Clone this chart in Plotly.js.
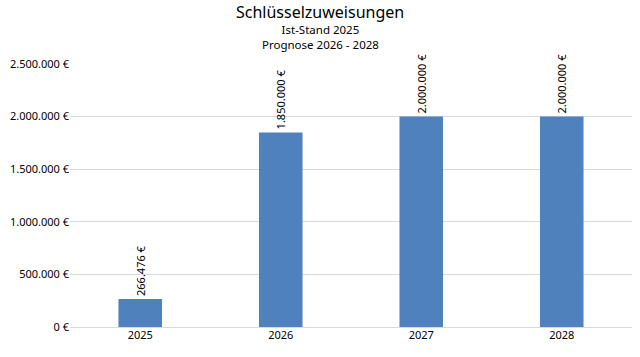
<!DOCTYPE html>
<html><head><meta charset="utf-8">
<script src="https://cdn.plot.ly/plotly-3.0.1.min.js"></script>
<style>body{margin:0;background:#fff}#c{width:640px;height:357px}</style>
</head><body><div id="c"></div>
<script>
const years = ['2025','2026','2027','2028'];
const values = [266476, 1850000, 2000000, 2000000];
const yTicks = [0, 500000, 1000000, 1500000, 2000000, 2500000];
const titleMain = 'Schlüsselzuweisungen';
const titleSub1 = 'Ist-Stand 2025';
const titleSub2 = 'Prognose 2026 - 2028';

function fmtEuro(v) {
  return String(Math.round(v)).replace(/\B(?=(\d{3})+(?!\d))/g, '.') + ' €';
}
const font = 'Noto Sans, Open Sans, sans-serif';
const H = 357, T = 64, B = 30, plotH = H - T - B;
function yPaper(px) { return (H - B - px) / plotH; }

Plotly.newPlot('c', [{
  type: 'bar', x: years, y: values,
  marker: {color: '#4F81BD'},
  text: values.map(fmtEuro), textposition: 'outside', textangle: -90,
  constraintext: 'none',
  textfont: {size: 11, color: '#000', family: font},
  cliponaxis: false, hoverinfo: 'none'
}], {
  width: 640, height: 357,
  margin: {l: 70, r: 8, t: T, b: B},
  paper_bgcolor: '#fff', plot_bgcolor: '#fff',
  bargap: 0.69,
  annotations: [
    {text: titleMain, xref: 'paper', yref: 'paper', x: 0.445, y: yPaper(0), xanchor: 'center', yanchor: 'top',
     showarrow: false, borderpad: 0, font: {size: 16, family: font, color: '#000'}},
    {text: titleSub1 + '<br>' + titleSub2, xref: 'paper', yref: 'paper', x: 0.445, y: yPaper(21), xanchor: 'center', yanchor: 'top',
     showarrow: false, borderpad: 0, font: {size: 11.5, family: font, color: '#000'}}
  ],
  xaxis: {type: 'category', showgrid: false, showline: false, zeroline: false,
          tickfont: {size: 11, family: font, color: '#000'}, ticks: ''},
  yaxis: {range: [0, 2500000], tickmode: 'array', tickvals: yTicks, ticktext: yTicks.map(fmtEuro),
          showgrid: true, gridcolor: '#D9D9D9', zeroline: true, zerolinecolor: '#D9D9D9',
          showline: false, ticks: '', ticklen: 0,
          tickfont: {size: 11, family: font, color: '#000'}},
  showlegend: false
}, {displayModeBar: false, staticPlot: true});
</script></body></html>
